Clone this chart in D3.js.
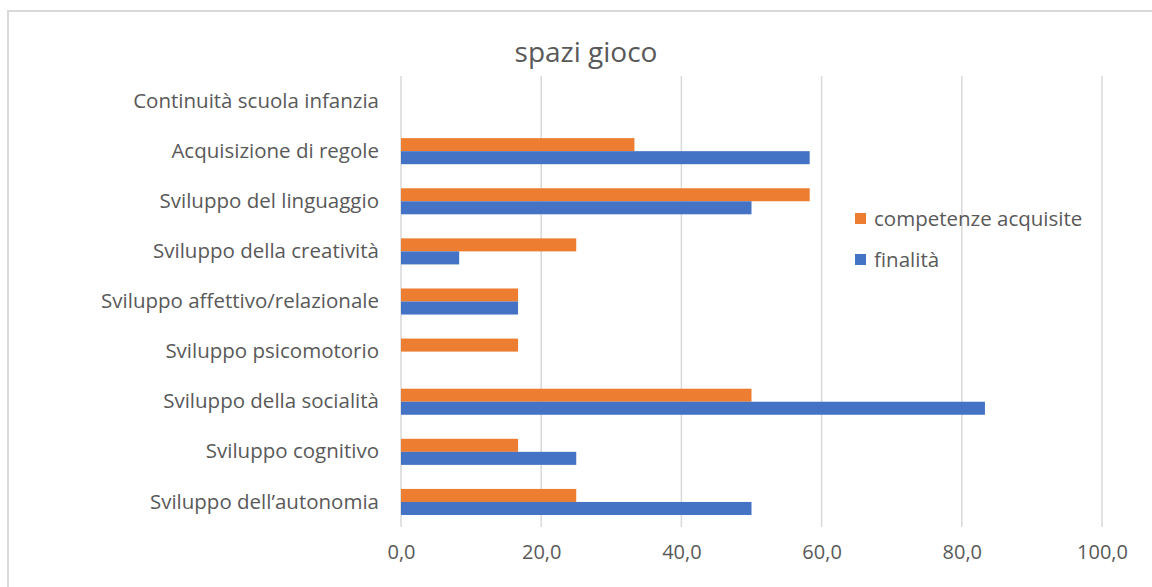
<!DOCTYPE html>
<html><head><meta charset="utf-8">
<script src="https://cdn.jsdelivr.net/npm/d3@7"></script>
<style>body{margin:0;background:#fff;} svg{display:block;font-family:"Open Sans",sans-serif;}</style>
</head><body>
<svg id="chart" width="1152" height="587"></svg>
<script>
const title = "spazi gioco";
const categories = ["Continuità scuola infanzia","Acquisizione di regole","Sviluppo del linguaggio","Sviluppo della creatività","Sviluppo affettivo/relazionale","Sviluppo psicomotorio","Sviluppo della socialità","Sviluppo cognitivo","Sviluppo dell’autonomia"];
const seriesNames = ["competenze acquisite","finalità"];
const competenze = [0,33.3,58.3,25.0,16.7,16.7,50.0,16.7,25.0];
const finalita =   [0,58.3,50.0,8.3,16.7,0,83.3,25.0,50.0];
const xTicks = [0,20,40,60,80,100];
const colors = ["#ED7D31","#4472C4"];

const svg = d3.select("#chart");
// chart frame
svg.append("rect").attr("x",8).attr("y",11).attr("width",1160).attr("height",600)
  .attr("fill","#fff").attr("stroke","#d9d9d9").attr("stroke-width",2);

const x = d3.scaleLinear().domain([0,100]).range([401,1102]);
const y = d3.scaleBand().domain(categories).range([76,527]).paddingInner(0.48).paddingOuter(0.24);
const ySub = d3.scaleBand().domain(seriesNames).range([0,y.bandwidth()]);

// gridlines
svg.append("g").selectAll("line").data(xTicks).join("line")
  .attr("x1",d=>x(d)).attr("x2",d=>x(d)).attr("y1",76).attr("y2",527)
  .attr("stroke","#d9d9d9").attr("stroke-width",1.5);

// x axis labels
const xAxis = d3.axisBottom(x).tickValues(xTicks).tickSize(0).tickPadding(0)
  .tickFormat(d=>d3.format(".1f")(d).replace(".",","));
const gx = svg.append("g").attr("transform","translate(0,552)").call(xAxis);
gx.select(".domain").remove();
gx.selectAll("text").attr("fill","#595959").attr("font-size",20).attr("font-family","Open Sans").attr("dy","0.35em");

// y axis labels
const yAxis = d3.axisLeft(y).tickSize(0).tickPadding(22);
const gy = svg.append("g").attr("transform","translate(401,0)").call(yAxis);
gy.select(".domain").remove();
gy.selectAll("text").attr("fill","#595959").attr("font-size",20.5).attr("font-family","Open Sans");

// bars
const data = categories.map((c,i)=>({cat:c, vals:[competenze[i],finalita[i]]}));
const groups = svg.append("g").selectAll("g").data(data).join("g")
  .attr("transform",d=>`translate(0,${y(d.cat)})`);
groups.selectAll("rect").data(d=>d.vals.map((v,j)=>({v,s:seriesNames[j],j}))).join("rect")
  .attr("x",x(0)).attr("y",d=>ySub(d.s)).attr("height",ySub.bandwidth())
  .attr("width",d=>x(d.v)-x(0)).attr("fill",d=>colors[d.j]);

// title
svg.append("text").attr("x",586).attr("y",52).attr("dy","0.35em").attr("text-anchor","middle")
  .attr("font-size",28).attr("fill","#595959").text(title);

// legend
const lg = svg.append("g").selectAll("g").data(seriesNames).join("g")
  .attr("transform",(d,i)=>`translate(855,${213+i*41})`);
lg.append("rect").attr("width",11).attr("height",11).attr("fill",(d,i)=>colors[i]);
lg.append("text").attr("x",19).attr("y",5.5).attr("dy","0.35em").attr("font-size",20.5)
  .attr("fill","#595959").text(d=>d);
</script>
</body></html>
